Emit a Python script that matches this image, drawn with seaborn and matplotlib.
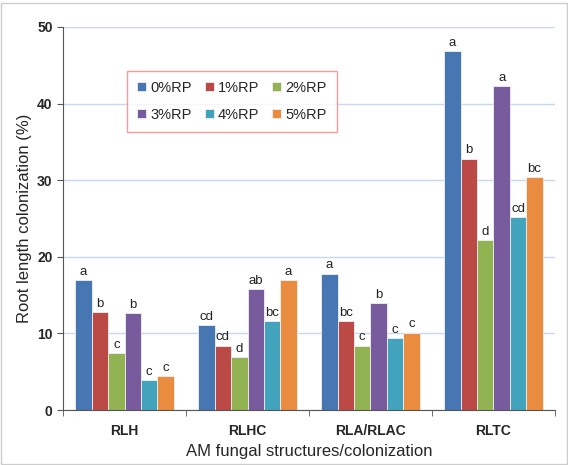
import numpy as np
import pandas as pd
import matplotlib
matplotlib.use("Agg")
import matplotlib.pyplot as plt
import seaborn as sns

categories = ["RLH", "RLHC", "RLA/RLAC", "RLTC"]
treatments = ["0%RP", "1%RP", "2%RP", "3%RP", "4%RP", "5%RP"]

rp0 = [17.0, 11.1, 17.8, 46.8]
rp1 = [12.8, 8.4, 11.6, 32.8]
rp2 = [7.4, 6.9, 8.4, 22.2]
rp3 = [12.7, 15.8, 14.0, 42.3]
rp4 = [3.9, 11.6, 9.4, 25.2]
rp5 = [4.4, 17.0, 10.1, 30.4]

let0 = ["a", "cd", "a", "a"]
let1 = ["b", "cd", "bc", "b"]
let2 = ["c", "d", "c", "d"]
let3 = ["b", "ab", "b", "a"]
let4 = ["c", "bc", "c", "cd"]
let5 = ["c", "a", "c", "bc"]

colors = ["#4677b3", "#bb4a46", "#92b352", "#775b9d", "#42a3bd", "#e98c40"]

series = [rp0, rp1, rp2, rp3, rp4, rp5]
letters = [let0, let1, let2, let3, let4, let5]
rows = []
for t, vals, lets in zip(treatments, series, letters):
    for c, v, l in zip(categories, vals, lets):
        rows.append({"structure": c, "treatment": t, "value": v, "letter": l})
df = pd.DataFrame(rows)

sns.set_style("white")
plt.rcParams["font.family"] = ["Liberation Sans", "DejaVu Sans"]

fig = plt.figure(figsize=(5.68, 4.65), dpi=100)
ax = fig.add_axes([0.111, 0.118, 0.866, 0.824])

sns.barplot(data=df, x="structure", y="value", hue="treatment",
            palette=colors, width=0.8, edgecolor="#f0f0f0", linewidth=0.6,
            saturation=1, ax=ax, errorbar=None)

for cont, lets in zip(ax.containers, letters):
    for bar, l in zip(cont, lets):
        ax.text(bar.get_x() + bar.get_width() / 2, bar.get_height() + 0.3, l,
                ha="center", va="bottom", fontsize=9.5, color="#222222")

ax.set_ylim(0, 50)
ax.set_yticks(range(0, 51, 10))
ax.set_xlim(-0.5, 3.5)
ax.yaxis.grid(True, color="#c6d9f1", linewidth=1)
ax.set_axisbelow(True)
for s in ["top", "right"]:
    ax.spines[s].set_visible(False)
ax.spines["left"].set_color("#555555")
ax.spines["bottom"].set_color("#555555")

ax.set_xticks([0, 1, 2, 3])
ax.set_xticklabels(categories, fontsize=10, fontweight="bold")
ax.set_xticks([-0.5, 0.5, 1.5, 2.5, 3.5], minor=True)
ax.tick_params(axis="x", which="major", length=0, pad=10)
ax.tick_params(axis="x", which="minor", length=4, direction="out", color="#555555", bottom=True)
ax.tick_params(axis="y", length=4, direction="out", color="#555555", left=True, labelsize=10)
for lab in ax.get_yticklabels():
    lab.set_fontweight("bold")

ax.set_xlabel("AM fungal structures/colonization", fontsize=12)
ax.set_ylabel("Root length colonization (%)", fontsize=12)

# legend filled row by row (3 per row)
handles, labels = ax.get_legend_handles_labels()
order = [0, 3, 1, 4, 2, 5]
leg = ax.legend([handles[i] for i in order], [labels[i] for i in order],
                loc="upper left", bbox_to_anchor=(0.115, 0.905), ncol=3,
                frameon=True, fontsize=10.5, handlelength=0.6, handleheight=0.6,
                handletextpad=0.3, columnspacing=0.9, labelspacing=0.9,
                borderpad=0.7, fancybox=False)
leg.get_frame().set_edgecolor("#ff8080")
leg.get_frame().set_linewidth(1)

fig.patches.append(plt.Rectangle((0.002, 0.002), 0.996, 0.992, transform=fig.transFigure,
                                 fill=False, edgecolor="#cccccc", linewidth=1))

fig.savefig("out.png", dpi=100)
